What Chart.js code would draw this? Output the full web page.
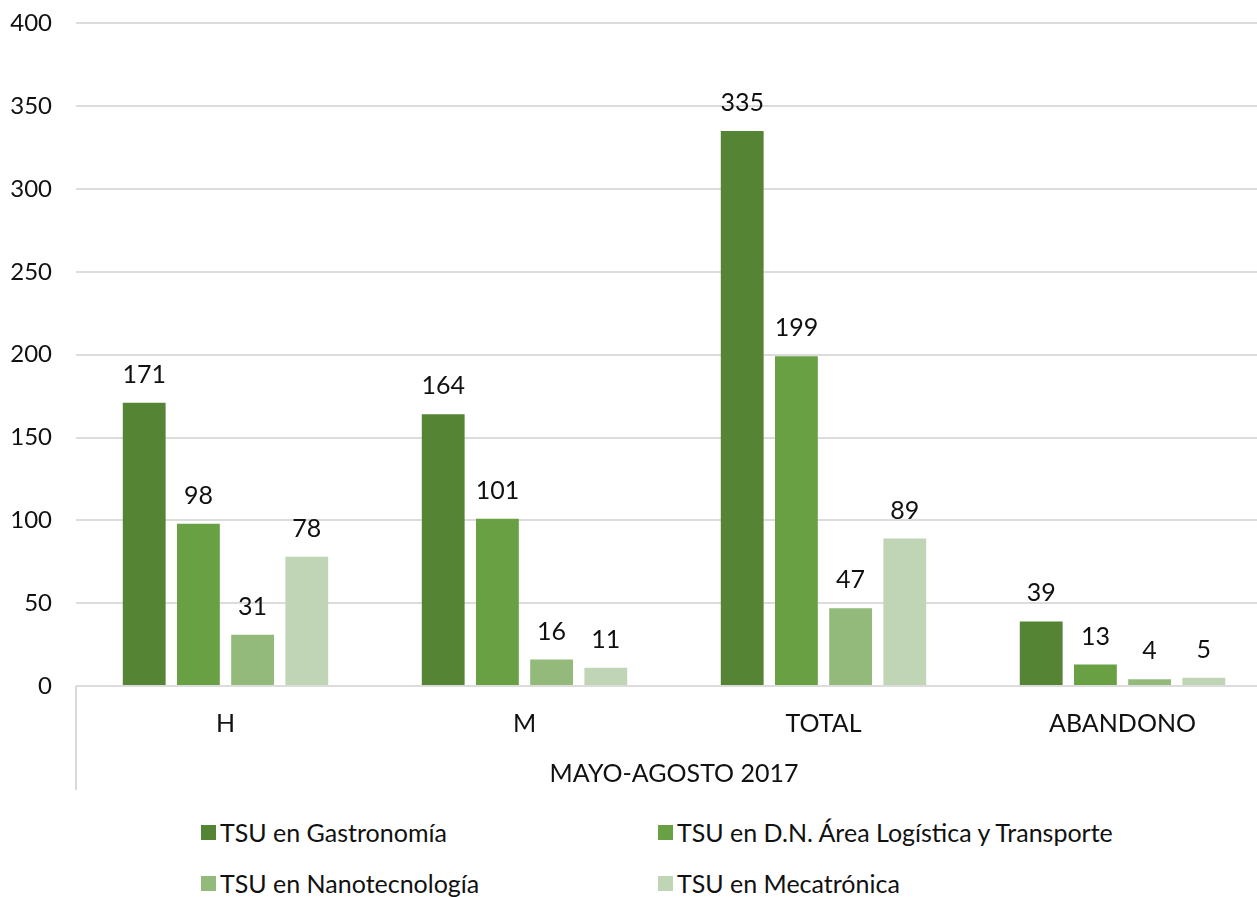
<!DOCTYPE html>
<html>
<head>
<meta charset="utf-8">
<script src="https://cdn.jsdelivr.net/npm/chart.js@4"></script>
<style>
  body { margin: 0; background: #fff; overflow: hidden; }
  #wrap { position: absolute; left: 0; top: 0; width: 1257px; height: 897px; overflow: hidden; }
  #box { position: absolute; left: 0; top: -15px; width: 1272px; height: 815px; }
  .leg { position: absolute; display: flex; align-items: center; font: 25px Lato, sans-serif; color: #111; white-space: nowrap; }
  .leg span.sw { width: 15px; height: 15px; margin-right: 4px; display: inline-block; }
</style>
</head>
<body>
<div id="wrap">
  <div id="box"><canvas id="chart"></canvas></div>
  <div id="legend"></div>
</div>
<script>
// categories and series
const categories = ["H", "M", "TOTAL", "ABANDONO"];
const axisTitle = "MAYO-AGOSTO 2017";
const seriesNames = [
  "TSU en Gastronomía",
  "TSU en D.N. Área Logística y Transporte",
  "TSU en Nanotecnología",
  "TSU en Mecatrónica",
];
const gastronomia = [171, 164, 335, 39];
const logistica = [98, 101, 199, 13];
const nanotecnologia = [31, 16, 47, 4];
const mecatronica = [78, 11, 89, 5];
const colors = ["#558435", "#69a043", "#93ba7a", "#c0d5b5"];

const FONT = "Lato, sans-serif";

// value labels above bars
const valueLabels = {
  id: "valueLabels",
  afterDatasetsDraw(chart) {
    const ctx = chart.ctx;
    ctx.save();
    ctx.font = "25px " + FONT;
    ctx.fillStyle = "#111";
    ctx.textAlign = "center";
    ctx.textBaseline = "middle";
    chart.data.datasets.forEach((ds, i) => {
      chart.getDatasetMeta(i).data.forEach((bar, j) => {
        ctx.fillText(ds.data[j], bar.x, bar.y - 28);
      });
    });
    ctx.restore();
  },
};

// left separator line of the category axis
const axisEdge = {
  id: "axisEdge",
  afterDraw(chart) {
    const ctx = chart.ctx;
    const a = chart.chartArea;
    ctx.save();
    ctx.strokeStyle = "#d9d9d9";
    ctx.lineWidth = 2;
    ctx.beginPath();
    ctx.moveTo(a.left, a.bottom);
    ctx.lineTo(a.left, a.bottom + 104);
    ctx.stroke();
    ctx.restore();
  },
};

const seriesData = [gastronomia, logistica, nanotecnologia, mecatronica];

const chart = new Chart(document.getElementById("chart"), {
  type: "bar",
  data: {
    labels: categories,
    datasets: seriesData.map((d, i) => ({
      label: seriesNames[i],
      data: d,
      backgroundColor: colors[i],
      borderWidth: 0,
      categoryPercentage: 0.725,
      barPercentage: 0.79,
    })),
  },
  options: {
    responsive: true,
    maintainAspectRatio: false,
    animation: false,
    layout: { padding: { top: 7, right: 0, bottom: 0, left: 0 } },
    plugins: { legend: { display: false }, tooltip: { enabled: false } },
    scales: {
      y: {
        min: 0,
        max: 400,
        ticks: { stepSize: 50, padding: 24, color: "#111", font: { family: FONT, size: 24 } },
        grid: { color: "#dcdcdc", lineWidth: 2, drawTicks: false },
        border: { display: false },
        afterFit(scale) { scale.width = 76; },
      },
      x: {
        ticks: { padding: 23, color: "#111", font: { family: FONT, size: 25 } },
        grid: { display: false, drawTicks: false },
        border: { display: false },
        title: {
          display: true,
          text: axisTitle,
          color: "#111",
          font: { family: FONT, size: 25 },
          padding: { top: 0, bottom: 11 },
        },
        afterFit(scale) { scale.height = 114; },
      },
    },
  },
  plugins: [valueLabels, axisEdge],
});

// legend, two columns
const legendPos = [[201, 832], [658, 832], [201, 883], [658, 883]];
const legend = document.getElementById("legend");
seriesNames.forEach((name, i) => {
  const item = document.createElement("div");
  item.className = "leg";
  item.style.left = legendPos[i][0] + "px";
  item.style.top = (legendPos[i][1] - 15) + "px";
  item.style.height = "30px";
  item.innerHTML = '<span class="sw" style="background:' + colors[i] + '"></span>' + name;
  legend.appendChild(item);
});
</script>
</body>
</html>
